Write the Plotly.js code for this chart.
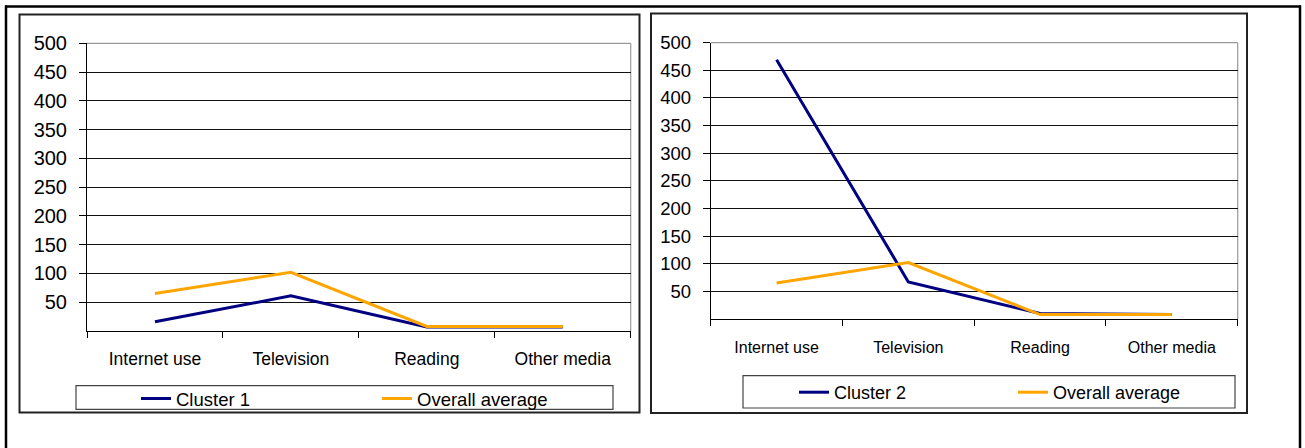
<!DOCTYPE html>
<html>
<head>
<meta charset="utf-8">
<script src="https://cdn.plot.ly/plotly-3.0.1.min.js"></script>
<style>
  html, body { margin: 0; padding: 0; background: #fff; }
  #chart { width: 1305px; height: 448px; }
</style>
</head>
<body>
<div id="chart"></div>
<script>
// ---- Data ----
const categories = ["Internet use", "Television", "Reading", "Other media"];
const cluster1 = [16, 61, 7, 7];
const overallAverage1 = [65, 102, 8, 8];
const cluster2 = [469, 67, 10, 8];
const overallAverage2 = [65, 102, 8, 8];
const yTickValues = [50, 100, 150, 200, 250, 300, 350, 400, 450, 500];
const seriesNames = ["Cluster 1", "Cluster 2", "Overall average"];

// ---- Layout helpers (pixel -> paper) ----
const W = 1305, H = 448;
const X = px => px / W;
const Y = py => 1 - py / H;
const FONT = "Liberation Sans, Arial, Helvetica, sans-serif";
const NAVY = "#000080";
const ORANGE = "#FFA500";

const traces = [
  { x: categories, y: cluster1, name: seriesNames[0], type: "scatter", mode: "lines",
    line: { color: NAVY, width: 3 }, xaxis: "x", yaxis: "y", legend: "legend" },
  { x: categories, y: overallAverage1, name: seriesNames[2], type: "scatter", mode: "lines",
    line: { color: ORANGE, width: 3 }, xaxis: "x", yaxis: "y", legend: "legend" },
  { x: categories, y: cluster2, name: seriesNames[1], type: "scatter", mode: "lines",
    line: { color: NAVY, width: 3 }, xaxis: "x2", yaxis: "y2", legend: "legend2" },
  { x: categories, y: overallAverage2, name: seriesNames[2], type: "scatter", mode: "lines",
    line: { color: ORANGE, width: 3 }, xaxis: "x2", yaxis: "y2", legend: "legend2" }
];

function xAxis(domain, anchor, fontSize, standoff) {
  return {
    domain: domain, anchor: anchor, type: "category", range: [-0.5, 3.5],
    showgrid: false, zeroline: false, showline: true, linecolor: "#000", linewidth: 1,
    ticks: "outside", tickson: "boundaries", ticklen: 6, tickcolor: "#000", tickwidth: 1,
    ticklabelstandoff: standoff,
    tickfont: { family: FONT, size: fontSize, color: "#000" }, fixedrange: true
  };
}
function yAxis(domain, anchor, fontSize) {
  return {
    domain: domain, anchor: anchor, range: [0, 500],
    tickmode: "array", tickvals: yTickValues, ticktext: yTickValues.map(String),
    showgrid: true, gridcolor: "#111", gridwidth: 1, zeroline: false,
    showline: true, linecolor: "#000", linewidth: 1,
    ticks: "outside", ticklen: 7, tickcolor: "#000", tickwidth: 1,
    ticklabelstandoff: 8,
    tickfont: { family: FONT, size: fontSize, color: "#000" }, fixedrange: true
  };
}

function rect(x0, y0, x1, y1, color, width, layer) {
  return { type: "rect", xref: "paper", yref: "paper", x0: X(x0), x1: X(x1), y0: Y(y0), y1: Y(y1),
    line: { color: color, width: width }, fillcolor: "rgba(0,0,0,0)", layer: layer || "above" };
}
function line(x0, y0, x1, y1, color, width, layer) {
  return { type: "line", xref: "paper", yref: "paper", x0: X(x0), x1: X(x1), y0: Y(y0), y1: Y(y1),
    line: { color: color, width: width }, layer: layer || "above" };
}

const shapes = [
  // outer frame
  line(5, 6.5, 1301, 6.5, "#000", 2.5),
  line(6, 5.5, 6, 448, "#000", 2.5),
  line(1300, 5.5, 1300, 448, "#000", 2.5),
  // panel frames
  rect(19.5, 14.5, 639.5, 412.5, "#222", 2),
  rect(651, 13.5, 1247, 413, "#222", 2),
  // plot-area top/right borders (grey)
  line(87, 43.3, 630.7, 43.3, "#999", 1.2, "between"),
  line(630.7, 43.3, 630.7, 331, "#999", 1.2, "between"),
  line(710.7, 42.7, 1237.7, 42.7, "#999", 1.2, "between"),
  line(1237.7, 42.7, 1237.7, 319, "#999", 1.2, "between"),
  // legend boxes
  rect(76, 385.7, 613, 409.3, "#444", 1.2),
  rect(743, 375.7, 1235, 408, "#444", 1.2)
];

const layout = {
  width: W, height: H,
  margin: { l: 0, r: 0, t: 0, b: 0, pad: 0 },
  paper_bgcolor: "#fff", plot_bgcolor: "rgba(0,0,0,0)",
  font: { family: FONT, color: "#000" },
  showlegend: true,
  hovermode: false,
  xaxis: xAxis([X(87), X(630.7)], "y", 17.5, 12),
  yaxis: yAxis([Y(331), Y(43.3)], "x", 20),
  xaxis2: xAxis([X(710.7), X(1237.7)], "y2", 16, 14),
  yaxis2: yAxis([Y(319), Y(42.7)], "x2", 18.5),
  legend: {
    orientation: "h", x: X(136), xanchor: "left", y: Y(399), yanchor: "middle",
    bgcolor: "rgba(0,0,0,0)", borderwidth: 0, entrywidth: 196, entrywidthmode: "pixels",
    font: { family: FONT, size: 18.5, color: "#000" }, traceorder: "normal"
  },
  legend2: {
    orientation: "h", x: X(794), xanchor: "left", y: Y(392.5), yanchor: "middle",
    bgcolor: "rgba(0,0,0,0)", borderwidth: 0, entrywidth: 174, entrywidthmode: "pixels",
    font: { family: FONT, size: 18, color: "#000" }, traceorder: "normal"
  },
  shapes: shapes
};

Plotly.newPlot("chart", traces, layout, { staticPlot: true, displayModeBar: false });
</script>
</body>
</html>
